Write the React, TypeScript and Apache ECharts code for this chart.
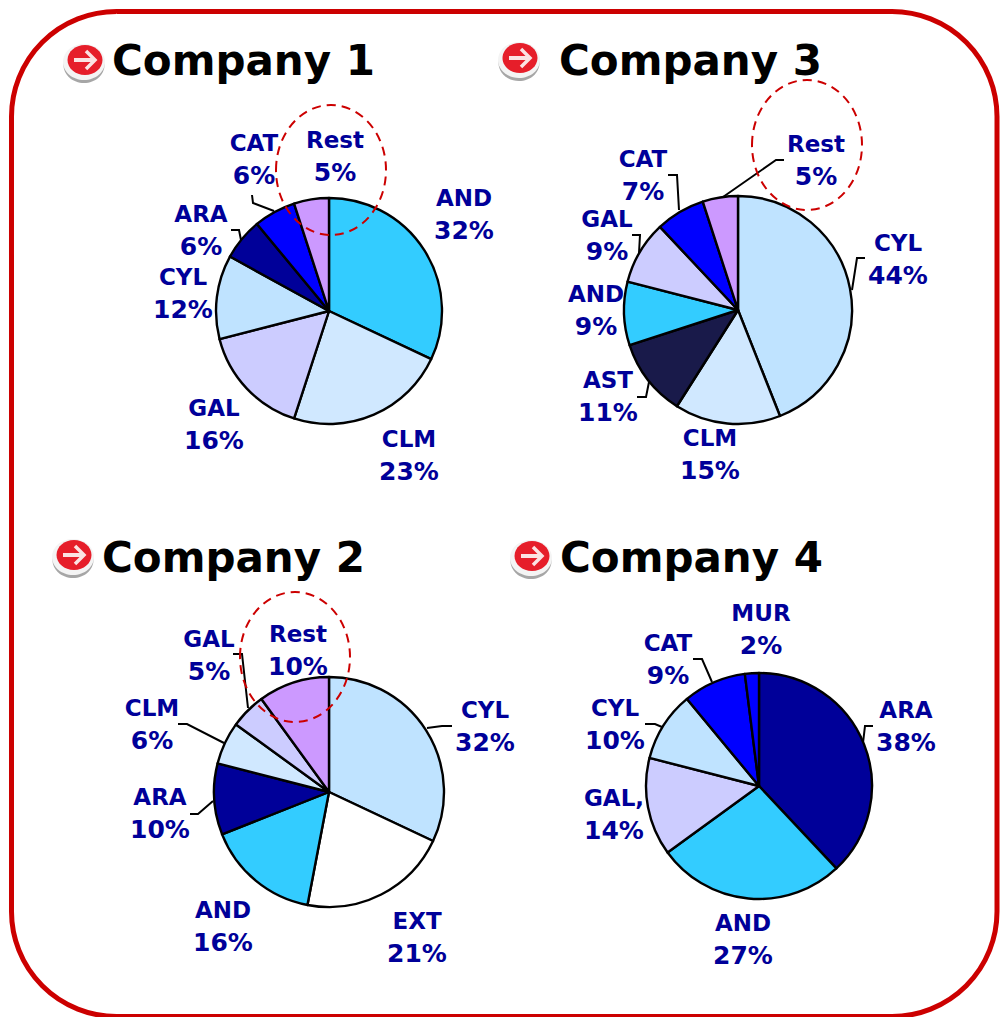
import React, { useEffect, useRef } from "react";
import * as echarts from "echarts";

const namesC1 = ["AND", "CLM", "GAL", "CYL", "ARA", "CAT", "Rest"];
const valuesC1 = [32, 23, 16, 12, 6, 6, 5];
const namesC2 = ["CYL", "EXT", "AND", "ARA", "CLM", "GAL", "Rest"];
const valuesC2 = [32, 21, 16, 10, 6, 5, 10];
const namesC3 = ["CYL", "CLM", "AST", "AND", "GAL", "CAT", "Rest"];
const valuesC3 = [44, 15, 11, 9, 9, 7, 5];
const namesC4 = ["ARA", "AND", "GAL,", "CYL", "CAT", "MUR"];
const valuesC4 = [38, 27, 14, 10, 9, 2];

const colors: Record<string, string> = {
  AND: "#33CCFF",
  CLM: "#D0E8FF",
  GAL: "#CCCCFF",
  "GAL,": "#CCCCFF",
  CYL: "#BFE3FF",
  ARA: "#000099",
  CAT: "#0000FF",
  MUR: "#0000FF",
  Rest: "#CC99FF",
  AST: "#191A4A",
  EXT: "#FFFFFF",
};

const BLUE = "#000099";
const RED = "#CC0000";
const FONT = "'DejaVu Sans', Verdana, sans-serif";

type Lay = { center: [number, number]; r: number; labels: [number, number][]; lines: ([number, number][] | null)[] };

const layC1: Lay = {
  center: [329, 311],
  r: 113,
  labels: [[464, 214], [409, 455], [214, 424], [183, 293], [201, 230], [254, 159], [335, 156]],
  lines: [null, null, null, null,
    [[231, 230], [239, 230], [241, 240]],
    [[252, 195], [253, 203], [274, 211]],
    null],
};
const layC2: Lay = {
  center: [329, 792],
  r: 115,
  labels: [[485, 726], [417, 937], [223, 926], [160, 813], [152, 724], [209, 655], [298, 650]],
  lines: [[[452, 726], [442, 726], [427, 728]], null, null,
    [[190, 814], [198, 814], [213, 801]],
    [[178, 724], [187, 724], [224, 743]],
    [[233, 654], [242, 654], [248, 708]],
    null],
};
const layC3: Lay = {
  center: [738, 310],
  r: 114,
  labels: [[898, 259], [710, 454], [608, 396], [596, 310], [607, 235], [643, 175], [816, 160]],
  lines: [[[865, 258], [857, 258], [852, 290]], null,
    [[637, 397], [646, 397], [649, 382]],
    null,
    [[632, 235], [640, 235], [639, 253]],
    [[668, 175], [677, 175], [679, 210]],
    [[784, 160], [776, 160], [723, 197]]],
};
const layC4: Lay = {
  center: [759, 786],
  r: 113,
  labels: [[906, 726], [743, 939], [614, 814], [615, 724], [668, 659], [761, 629]],
  lines: [[[873, 726], [865, 726], [863, 743]], null, null,
    [[645, 724], [655, 724], [662, 727]],
    [[693, 659], [702, 659], [712, 682]],
    null],
};

function pie(names: string[], values: number[], lay: Lay) {
  return {
    type: "pie",
    silent: true,
    clockwise: true,
    startAngle: 90,
    center: lay.center,
    radius: [0, lay.r],
    avoidLabelOverlap: false,
    itemStyle: { borderColor: "#000", borderWidth: 2.4 },
    label: {
      show: true,
      position: "outside",
      formatter: "{n|{b}}\n{p|{c}%}",
      color: BLUE,
      fontFamily: FONT,
      fontWeight: "bold",
      align: "center",
      rich: {
        n: { color: BLUE, fontFamily: FONT, fontWeight: "bold", fontSize: 23, lineHeight: 32, align: "center" },
        p: { color: BLUE, fontFamily: FONT, fontWeight: "bold", fontSize: 25, lineHeight: 32, align: "center" },
      },
    },
    labelLine: { show: true, lineStyle: { color: "#000", width: 2 } },
    labelLayout: (p: any) => ({
      x: lay.labels[p.dataIndex][0],
      y: lay.labels[p.dataIndex][1],
      align: "center",
      verticalAlign: "middle",
      labelLinePoints: lay.lines[p.dataIndex] || undefined,
    }),
    data: names.map((name, i) => ({
      name,
      value: values[i],
      itemStyle: { color: colors[name] },
      labelLine: { show: !!lay.lines[i] },
    })),
  };
}

function title(text: string, left: number, top: number) {
  return {
    text,
    left,
    top,
    padding: 0,
    textStyle: { color: "#000", fontFamily: FONT, fontWeight: "bold", fontSize: 42 },
  };
}

function ellipse(cx: number, cy: number) {
  return {
    type: "ellipse",
    z: 50,
    silent: true,
    shape: { cx, cy, rx: 55, ry: 65 },
    style: { fill: "transparent", stroke: RED, lineWidth: 2, lineDash: [9, 6] },
  };
}

function icon(cx: number, cy: number) {
  const e = (dx: number, dy: number, rx: number, ry: number, fill: string) => ({
    type: "ellipse",
    z: 40,
    shape: { cx: cx + dx, cy: cy + dy, rx, ry },
    style: { fill },
  });
  return [
    e(-1, 5, 20.5, 18, "#A6A6A6"),
    e(-1, 2, 21, 18, "#F4F4F4"),
    e(0, 0, 17.5, 15, "#E61E2A"),
    {
      type: "line",
      z: 41,
      shape: { x1: cx - 11, y1: cy, x2: cx + 9, y2: cy },
      style: { stroke: "#FBE3E3", lineWidth: 4 },
    },
    {
      type: "polyline",
      z: 41,
      shape: { points: [[cx + 1, cy - 9], [cx + 10, cy], [cx + 1, cy + 9]] },
      style: { stroke: "#FBE3E3", lineWidth: 3.5, fill: "transparent" },
    },
  ];
}

export default function App() {
  const ref = useRef<HTMLDivElement>(null);
  useEffect(() => {
    const chart = echarts.init(ref.current!, undefined, { renderer: "svg" });
    chart.setOption({
      animation: false,
      backgroundColor: "#fff",
      title: [
        title("Company 1", 112, 39),
        title("Company 3", 559, 39),
        title("Company 2", 102, 536),
        title("Company 4", 560, 536),
      ],
      series: [
        pie(namesC1, valuesC1, layC1),
        pie(namesC2, valuesC2, layC2),
        pie(namesC3, valuesC3, layC3),
        pie(namesC4, valuesC4, layC4),
      ],
      graphic: [
        {
          type: "rect",
          z: 30,
          silent: true,
          shape: { x: 11.5, y: 11.5, width: 985.5, height: 1005, r: 105 },
          style: { fill: "transparent", stroke: RED, lineWidth: 5 },
        },
        ellipse(331, 170),
        ellipse(807, 145),
        ellipse(295, 657),
        ...icon(85, 60),
        ...icon(520, 58),
        ...icon(74, 555),
        ...icon(532, 556),
      ],
    });
    return () => chart.dispose();
  }, []);
  return (
    <div
      ref={ref}
      style={{ position: "absolute", left: 0, top: 0, width: 1001, height: 1017 }}
    />
  );
}
